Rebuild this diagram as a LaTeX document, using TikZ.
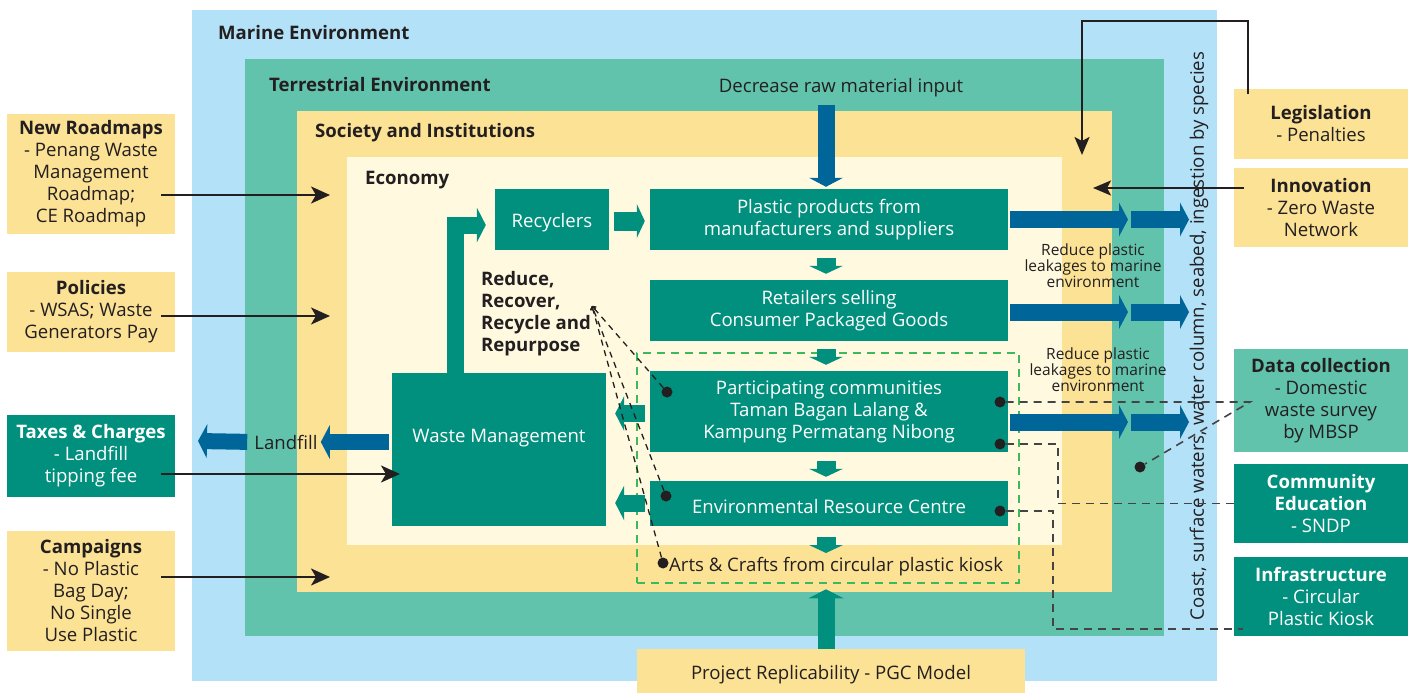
\documentclass[tikz,border=0pt]{standalone}
\usepackage{fontspec}
\setmainfont{Open Sans}
\usetikzlibrary{arrows.meta}
\definecolor{marine}{HTML}{B3E1F7}
\definecolor{terra}{HTML}{62C3AD}
\definecolor{society}{HTML}{FCE295}
\definecolor{econ}{HTML}{FFFADF}
\definecolor{dteal}{HTML}{00907D}
\definecolor{dblue}{HTML}{00669A}
\definecolor{gdash}{HTML}{3DB85C}
\definecolor{ink}{HTML}{231F20}
\definecolor{dgray}{HTML}{444444}
\newcommand{\topstrut}{\rule{0pt}{19.5pt}}
\begin{document}
\begin{tikzpicture}[x=1pt,y=-1pt,
  txt/.style={font=\fontsize{18.6}{22}\selectfont, text=ink, align=center, inner sep=0pt},
  btxt/.style={font=\bfseries\fontsize{18.6}{22}\selectfont, text=ink, align=left, inner sep=0pt},
  small/.style={font=\fontsize{15.5}{16}\selectfont, text=ink, align=center, inner sep=0pt},
  boxbase/.style={font=\fontsize{18.6}{22}\selectfont, align=center, inner sep=0pt, execute at begin node=\topstrut},
  ybox/.style={boxbase, fill=society, text=ink},
  tbox/.style={boxbase, fill=dteal, text=white},
  mbox/.style={boxbase, fill=terra, text=ink},
  fatblue/.style={draw=dblue, line width=17pt, -{Triangle[width=34pt,length=9pt,line width=0pt]}},
  fatteal/.style={draw=dteal, line width=17pt, -{Triangle[width=35pt,length=9pt,line width=0pt]}},
  smallteal/.style={draw=dteal, line width=19pt, -{Triangle[width=34pt,length=8pt,line width=0pt]}},
  blk/.style={draw=ink, line width=2.4pt, -{Stealth[length=19pt,width=17pt,inset=5pt]}},
  dot/.style={circle, fill=ink, inner sep=0pt, minimum size=11pt},
  dline/.style={draw=ink, line width=1.3pt, dash pattern=on 6pt off 5pt},
  gline/.style={draw=dgray, line width=1.6pt, dash pattern=on 8pt off 6pt},
]
\useasboundingbox (0,0) rectangle (1408,693);
% nested environments
\fill[marine] (192,10) rectangle (1217,681);
\fill[terra] (245,59) rectangle (1164,636);
\fill[society] (297,111) rectangle (1112,592);
\fill[econ] (347,157) rectangle (1062,545);
\node[btxt, anchor=west] (lmar) at (218,33) {Marine Environment};
\node[btxt, anchor=west] (lter) at (269,85) {Terrestrial Environment};
\node[btxt, anchor=west] (lsoc) at (315,133) {Society and Institutions};
\node[btxt, anchor=west] (leco) at (365,180) {Economy};
\node[txt, rotate=90] (coast) at (1199,336) {Coast, surface waters, water column, seabed, ingestion by species};

% left boxes
\node[ybox, minimum width=168pt, minimum height=120pt] (newroad) at (91,174) {\textbf{New Roadmaps}\\- Penang Waste\\Management\\Roadmap;\\CE Roadmap};
\node[ybox, minimum width=168pt, minimum height=80pt] (policies) at (91,312) {\textbf{Policies}\\- WSAS; Waste\\Generators Pay};
\node[tbox, minimum width=168pt, minimum height=82pt] (taxes) at (91,456) {\textbf{Taxes \& Charges}\\- Landfill\\tipping fee};
\node[ybox, minimum width=168pt, minimum height=120pt] (campaigns) at (91,591) {\textbf{Campaigns}\\- No Plastic\\Bag Day;\\No Single\\Use Plastic};

% right boxes
\node[ybox, minimum width=174pt, minimum height=70pt] (legis) at (1321,124) {\textbf{Legislation}\\- Penalties};
\node[ybox, minimum width=174pt, minimum height=79pt] (innov) at (1321,207.5) {\textbf{Innovation}\\- Zero Waste\\Network};
\node[mbox, minimum width=174pt, minimum height=103pt] (datacol) at (1321,400.5) {\textbf{Data collection}\\- Domestic\\waste survey\\by MBSP};
\node[tbox, minimum width=174pt, minimum height=79pt] (commed) at (1321,503.5) {\textbf{Community}\\\textbf{Education}\\- SNDP};
\node[tbox, minimum width=174pt, minimum height=79pt] (infra) at (1321,596.5) {\textbf{Infrastructure}\\- Circular\\Plastic Kiosk};

% economy boxes
\node[tbox, minimum width=114pt, minimum height=61pt] (recyc) at (552,219.5) {Recyclers};
\node[tbox, minimum width=358pt, minimum height=61pt] (plastic) at (829,219.5) {Plastic products from\\manufacturers and suppliers};
\node[tbox, minimum width=358pt, minimum height=61pt] (retail) at (829,310.5) {Retailers selling\\Consumer Packaged Goods};
\node[tbox, minimum width=358pt, minimum height=81pt] (partic) at (829,411.5) {Participating communities\\Taman Bagan Lalang \&\\Kampung Permatang Nibong};
\node[tbox, minimum width=358pt, minimum height=45pt] (erc) at (829,503.5) {Environmental Resource Centre};
\node[fill=dteal, inner sep=0pt, minimum width=214pt, minimum height=153pt, label={[txt, text=white, yshift=11pt]center:Waste Management}] (waste) at (499,449.5) {};
\node[btxt, anchor=west] (rrr) at (481,314) {Reduce,\\Recover,\\Recycle and\\Repurpose};
\node[txt, anchor=west] (arts) at (669,567) {Arts \& Crafts from circular plastic kiosk};
\node[draw=gdash, line width=2.5pt, dash pattern=on 8pt off 6pt, minimum width=382pt, minimum height=230pt, inner sep=0pt] (grp) at (828,468) {};
\node[ybox, minimum width=388pt, minimum height=46pt] (proj) at (831,672) {Project Replicability - PGC Model};
\node[txt] (dec) at (841,88) {Decrease raw material input};
\node[txt] (landfill) at (286,442) {Landfill};
\node[small] (red1) at (1093,266) {Reduce plastic\\leakages to marine\\environment};
\node[small] (red2) at (1098,370) {Reduce plastic\\leakages to marine\\environment};

% helper coordinates
\coordinate (ax) at (826,0);
\coordinate (a4) at (826,553);
\coordinate (lfend) at (198,441);
\coordinate (r1m) at (1129.5,219.5);
\coordinate (r1e) at (1189,219.5);
\coordinate (r2m) at (1129.5,312);
\coordinate (r2e) at (1189,312);
\coordinate (r3m) at (1129.5,422);
\coordinate (r3e) at (1189,422);
\coordinate (tNR) at (330,195);
\coordinate (tPO) at (330,316);
\coordinate (tTX) at (400,474);
\coordinate (tCA) at (330,577);
\coordinate (lgC) at (1082,21);
\coordinate (tLG) at (1082,155);
\coordinate (tIN) at (1093,188);
\coordinate (rtip) at (592,306);
\coordinate (dcj) at (1250,402);
\coordinate (cej) at (1058,444);
\coordinate (ifj) at (1053,511);

% fat arrows
\draw[fatblue, shorten <=7pt, shorten >=2pt] (ax |- dec.south) -- (ax |- plastic.north);
\draw[smallteal, shorten <=8pt, shorten >=6pt] (ax |- plastic.south) -- (ax |- retail.north);
\draw[smallteal, shorten <=8pt, shorten >=6pt] (ax |- retail.south) -- (ax |- partic.north);
\draw[smallteal, shorten <=9pt, shorten >=4pt] (ax |- partic.south) -- (ax |- erc.north);
\draw[smallteal, shorten <=11pt] (ax |- erc.south) -- (a4);
\draw[fatteal, shorten >=5pt] (ax |- proj.north) -- (ax |- grp.south);
\draw[smallteal, shorten <=5pt, shorten >=5pt] (recyc.east |- 0,221) -- (plastic.west |- 0,221);
\draw[fatteal, line join=miter, shorten >=9pt] (455.5,0 |- waste.north) |- (recyc.west |- 0,225);
\draw[fatteal, shorten >=9pt] (partic.west |- 0,413.5) ++(-5,0) -- (waste.east |- 0,413.5);
\draw[fatteal, shorten >=9pt] (erc.west |- 0,503) ++(-5,0) -- (waste.east |- 0,503);
\draw[fatblue, line width=16pt, shorten <=3pt, shorten >=3pt] (waste.west |- landfill.east) -- (landfill.east);
\draw[fatblue, line width=16pt, shorten <=7pt] (landfill.west) -- (lfend);
\draw[fatblue, shorten <=2pt, shorten >=1.5pt] (plastic.east) -- (r1m);
\draw[fatblue, shorten <=1.5pt] (r1m) -- (r1e);
\draw[fatblue, shorten <=2pt, shorten >=1.5pt] (retail.east |- r2m) -- (r2m);
\draw[fatblue, shorten <=1.5pt] (r2m) -- (r2e);
\draw[fatblue, shorten <=2pt, shorten >=1.5pt] (partic.east |- r3m) -- (r3m);
\draw[fatblue, shorten <=1.5pt] (r3m) -- (r3e);

% thin black arrows
\draw[blk, shorten <=-14pt] (newroad.east |- tNR) -- (tNR);
\draw[blk, shorten <=-14pt] (policies.east |- tPO) -- (tPO);
\draw[blk, shorten <=-14pt] (taxes.east |- tTX) -- (tTX);
\draw[blk, shorten <=-14pt] (campaigns.east |- tCA) -- (tCA);
\draw[blk, -{Stealth[length=18pt,width=15pt,inset=4pt]}] ([xshift=14pt,yshift=-5pt]legis.north west) |- (lgC) -- (tLG);
\draw[blk, -{Stealth[length=18pt,width=15pt,inset=4pt]}] ([xshift=10pt]innov.west |- tIN) -- (tIN);

% dots and dashed links
\node[dot] (p1) at (667,392) {};
\node[dot] (e1) at (666,496) {};
\node[dot] (a1) at (663,563) {};
\node[dot] (p2) at (1000,402) {};
\node[dot] (p3) at (1000,444) {};
\node[dot] (e2) at (1000,511) {};
\node[dot] (l1) at (1140,467) {};
\draw[dline, -{To[length=4pt,width=6pt]}] (p1) -- (rtip);
\draw[dline, -{To[length=4pt,width=6pt]}] (e1) -- (rtip);
\draw[dline, -{To[length=4pt,width=6pt]}] (a1) -- (rtip);
\draw[gline] (p2) -- (dcj) -- (l1);
\draw[gline] (p3) -- (cej) |- ([xshift=5pt]commed.west);
\draw[gline] (e2) -- (ifj) |- ([xshift=9pt]infra.west |- 0,629);
\end{tikzpicture}
\end{document}
